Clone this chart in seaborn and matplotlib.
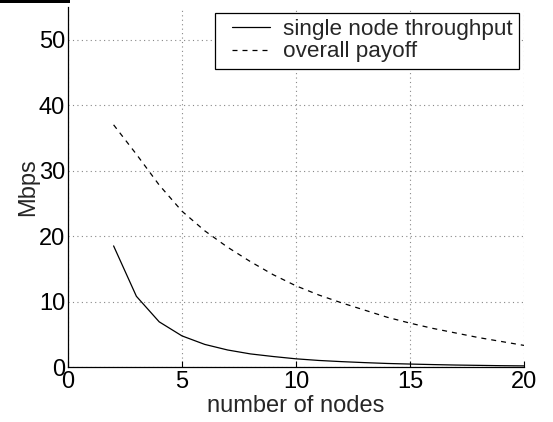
import matplotlib
matplotlib.use("Agg")
import matplotlib.pyplot as plt
import seaborn as sns
import pandas as pd
from matplotlib.patches import Rectangle
from matplotlib.lines import Line2D
from matplotlib.legend_handler import HandlerLine2D

nodes = list(range(2, 21))
single_node_throughput = [18.5, 10.8, 6.9, 4.75, 3.45, 2.6, 2.0, 1.6, 1.25, 1.0,
                          0.82, 0.67, 0.54, 0.45, 0.37, 0.30, 0.25, 0.20, 0.17]
overall_payoff = [37.0, 32.5, 27.8, 23.8, 20.8, 18.3, 16.1, 14.1, 12.4, 11.0,
                  9.8, 8.7, 7.6, 6.7, 5.9, 5.2, 4.5, 3.9, 3.3]
series_names = ["single node throughput", "overall payoff"]
x_ticks = [0, 5, 10, 15, 20]
y_ticks = [0, 10, 20, 30, 40, 50]

df = pd.concat([
    pd.DataFrame({"nodes": nodes, "Mbps": single_node_throughput, "series": series_names[0]}),
    pd.DataFrame({"nodes": nodes, "Mbps": overall_payoff, "series": series_names[1]}),
])

sns.set_style("white")
plt.rcParams["font.family"] = ["Liberation Sans", "DejaVu Sans"]

FS = 17
fig = plt.figure(figsize=(5.53, 4.22), dpi=100)
ax = fig.add_axes([68/553, 1 - 367/422, (524-68)/553, (367-7)/422])

sns.lineplot(data=df, x="nodes", y="Mbps", style="series", color="black",
             dashes={series_names[0]: "", series_names[1]: (4, 4)},
             linewidth=0.9, ax=ax, legend=True)

ax.set_xlim(0, 20)
ax.set_ylim(0, 55)
ax.set_xticks(x_ticks)
ax.set_yticks(y_ticks)
ax.grid(True, linestyle=(0, (1, 3)), color="#888888", linewidth=0.8)
for s in ["top", "right"]:
    ax.spines[s].set_visible(False)
for s in ["left", "bottom"]:
    ax.spines[s].set_color("black")
    ax.spines[s].set_linewidth(0.9)
ax.tick_params(axis="both", direction="in", length=4, width=0.8, labelsize=FS,
               colors="black", left=False, bottom=True)
ax.tick_params(axis="x", pad=3)
ax.tick_params(axis="y", pad=2)
ax.set_xlabel("number of nodes", fontsize=FS, labelpad=1)
ax.set_ylabel("Mbps", fontsize=FS, labelpad=0)

leg = ax.legend(loc="upper right", bbox_to_anchor=(519/553, 1 - 12.5/422),
                bbox_transform=fig.transFigure, fontsize=16.2, frameon=True,
                fancybox=False, framealpha=1, edgecolor="black",
                borderpad=0.3, handlelength=2.11, handletextpad=0.58,
                labelspacing=0.05, borderaxespad=0,
                handler_map={Line2D: HandlerLine2D(xpad=0.42)})
leg.get_frame().set_linewidth(0.9)
for line in leg.get_lines():
    line.set_linewidth(0.9)

fig.add_artist(Rectangle((0, 1 - 3/422), 70/553, 3/422, transform=fig.transFigure,
                         color="black", lw=0))

fig.savefig("out.png", dpi=100)
